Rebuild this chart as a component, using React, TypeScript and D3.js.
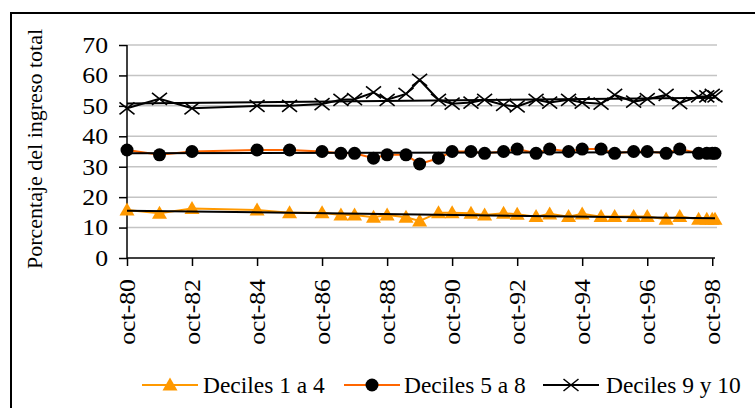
import React, { useEffect, useRef } from "react";
import * as d3 from "d3";

// survey waves (year-month)
const surveyDates = [
  "1980-10", "1981-10", "1982-10", "1984-10", "1985-10", "1986-10",
  "1987-05", "1987-10", "1988-05", "1988-10", "1989-05", "1989-10",
  "1990-05", "1990-10", "1991-05", "1991-10", "1992-05", "1992-10",
  "1993-05", "1993-10", "1994-05", "1994-10", "1995-05", "1995-10",
  "1996-05", "1996-10", "1997-05", "1997-10", "1998-05", "1998-08",
  "1998-10", "1998-11",
];

const deciles1a4 = [
  15.8, 14.7, 16.3, 15.8, 14.9, 14.9, 14.1, 14.1, 13.4, 14.1, 13.4, 12.2,
  14.9, 14.9, 14.7, 14.1, 14.7, 14.4, 13.6, 14.5, 13.6, 14.5, 13.6, 13.6,
  13.6, 13.6, 12.7, 13.6, 12.7, 12.7, 12.7, 12.7,
];

const deciles5a8 = [
  35.5, 33.9, 35.0, 35.5, 35.5, 35.0, 34.4, 34.4, 32.8, 33.9, 33.9, 30.9,
  32.8, 35.0, 35.0, 34.4, 35.0, 35.8, 34.4, 35.8, 35.0, 35.8, 35.8, 34.4,
  35.0, 35.0, 34.4, 35.8, 34.4, 34.4, 34.4, 34.4,
];

const deciles9y10 = [
  49.2, 52.3, 49.2, 50.0, 50.0, 50.6, 52.0, 52.2, 54.4, 52.0, 53.9, 58.5,
  52.0, 50.7, 51.1, 52.0, 50.3, 49.8, 52.0, 51.1, 52.0, 51.1, 50.7, 53.6,
  51.4, 52.2, 53.6, 50.9, 53.1, 53.1, 53.6, 53.1,
];

const yTicks = [0, 10, 20, 30, 40, 50, 60, 70];
const xTickDates = [
  "1980-10", "1982-10", "1984-10", "1986-10", "1988-10",
  "1990-10", "1992-10", "1994-10", "1996-10", "1998-10",
];
const xTickLabels = [
  "oct-80", "oct-82", "oct-84", "oct-86", "oct-88",
  "oct-90", "oct-92", "oct-94", "oct-96", "oct-98",
];

const seriesNames = ["Deciles 1 a 4", "Deciles 5 a 8", "Deciles 9 y 10"];

const FONT = "Liberation Serif";

const App: React.FC = () => {
  const svgRef = useRef<SVGSVGElement>(null);

  useEffect(() => {
    if (!svgRef.current) return;
    const svg = d3.select(svgRef.current);
    svg.selectAll("*").remove();

    const parse = d3.timeParse("%Y-%m");
    const dates = surveyDates.map((d) => parse(d) as Date);

    const x = d3
      .scaleTime()
      .domain([parse("1980-10") as Date, parse("1998-11") as Date])
      .range([127, 715]);
    const y = d3.scaleLinear().domain([0, 70]).range([258, 45]);

    const series = [
      { name: seriesNames[0], values: deciles1a4, color: "#FF9900", marker: "triangle" },
      { name: seriesNames[1], values: deciles5a8, color: "#FF6600", marker: "circle" },
      { name: seriesNames[2], values: deciles9y10, color: "#000000", marker: "cross" },
    ];

    // outer chart frame (cropped on right and bottom)
    svg
      .append("path")
      .attr("d", "M11,420 V13 H760")
      .attr("fill", "none")
      .attr("stroke", "#000")
      .attr("stroke-width", 2);

    // gridlines
    svg
      .append("g")
      .selectAll("line")
      .data(yTicks.filter((t) => t > 0))
      .enter()
      .append("line")
      .attr("x1", 127)
      .attr("x2", 717)
      .attr("y1", (d) => y(d))
      .attr("y2", (d) => y(d))
      .attr("stroke", "#c4c4c4")
      .attr("stroke-width", 1.5);

    // y axis
    const yAxis = svg.append("g").attr("transform", "translate(127,0)");
    yAxis
      .call(d3.axisLeft(y).tickValues(yTicks).tickSize(8).tickFormat(() => ""))
      .select(".domain")
      .attr("d", `M0,${y(70)}V${y(0)}`);
    yAxis.selectAll("line, path").attr("stroke", "#000").attr("stroke-width", 1.5);

    svg
      .append("g")
      .selectAll("text")
      .data(yTicks)
      .enter()
      .append("text")
      .attr("transform", (d) => `translate(108,${y(d) + 7.8}) scale(1.12,1)`)
      .attr("text-anchor", "end")
      .style("font-family", FONT)
      .style("font-size", "23px")
      .attr("fill", "#000")
      .text((d) => d);

    // x axis
    const tickDates = xTickDates.map((d) => parse(d) as Date);
    const xAxis = svg.append("g").attr("transform", `translate(0,${y(0)})`);
    xAxis
      .call(d3.axisBottom(x).tickValues(tickDates).tickSize(8).tickFormat(() => ""))
      .select(".domain")
      .attr("d", `M${x.range()[0]},0H${x.range()[1]}`);
    xAxis.selectAll("line, path").attr("stroke", "#000").attr("stroke-width", 1.5);

    svg
      .append("g")
      .selectAll("text")
      .data(tickDates)
      .enter()
      .append("text")
      .attr("transform", (d) => `translate(${x(d) + 7.8},279) rotate(-90) scale(1.12,1)`)
      .attr("text-anchor", "end")
      .style("font-family", FONT)
      .style("font-size", "23px")
      .attr("fill", "#000")
      .text((_d, i) => xTickLabels[i]);

    // y axis title
    svg
      .append("text")
      .attr("transform", "translate(42,149) rotate(-90)")
      .attr("text-anchor", "middle")
      .style("font-family", FONT)
      .style("font-size", "22px")
      .attr("fill", "#000")
      .text("Porcentaje del ingreso total");

    const drawMarker = (
      g: d3.Selection<SVGGElement, unknown, null, undefined>,
      kind: string,
      cx: number,
      cy: number,
    ) => {
      if (kind === "triangle") {
        g.append("path")
          .attr("d", `M${cx},${cy - 7.5}L${cx + 7.5},${cy + 5.5}L${cx - 7.5},${cy + 5.5}Z`)
          .attr("fill", "#FF9900");
      } else if (kind === "circle") {
        g.append("circle").attr("cx", cx).attr("cy", cy).attr("r", 6.5).attr("fill", "#000");
      } else {
        g.append("path")
          .attr("d", `M${cx - 7.5},${cy - 6}L${cx + 7.5},${cy + 6}M${cx - 7.5},${cy + 6}L${cx + 7.5},${cy - 6}`)
          .attr("stroke", "#000")
          .attr("stroke-width", 1.6)
          .attr("fill", "none");
      }
    };

    const line = d3
      .line<number>()
      .x((_d, i) => x(dates[i]))
      .y((d) => y(d));

    series.forEach((s) => {
      svg
        .append("path")
        .datum(s.values)
        .attr("fill", "none")
        .attr("stroke", s.color)
        .attr("stroke-width", 2)
        .attr("d", line);
      const mg = svg.append("g");
      s.values.forEach((v, i) => drawMarker(mg, s.marker, x(dates[i]), y(v)));
    });

    // linear trend lines
    series.forEach((s) => {
      const xs = dates.map((d) => d.getTime());
      const mx = d3.mean(xs) as number;
      const my = d3.mean(s.values) as number;
      let num = 0;
      let den = 0;
      xs.forEach((xv, i) => {
        num += (xv - mx) * (s.values[i] - my);
        den += (xv - mx) * (xv - mx);
      });
      const slope = num / den;
      const fit = (t: number) => my + slope * (t - mx);
      const t0 = xs[0];
      const t1 = xs[xs.length - 1];
      svg
        .append("line")
        .attr("x1", x(new Date(t0)))
        .attr("x2", x(new Date(t1)))
        .attr("y1", y(fit(t0)))
        .attr("y2", y(fit(t1)))
        .attr("stroke", "#000")
        .attr("stroke-width", 2);
    });

    // legend
    const legendItems = [
      { x0: 142, tx: 203 },
      { x0: 344, tx: 404 },
      { x0: 543, tx: 606 },
    ];
    const ly = 385;
    series.forEach((s, i) => {
      const it = legendItems[i];
      const g = svg.append("g");
      g.append("line")
        .attr("x1", it.x0)
        .attr("x2", it.x0 + 56)
        .attr("y1", ly)
        .attr("y2", ly)
        .attr("stroke", s.color)
        .attr("stroke-width", 2);
      drawMarker(g, s.marker, it.x0 + 28, ly);
      g.append("text")
        .attr("transform", `translate(${it.tx},${ly + 8}) scale(1.02,1)`)
        .style("font-family", FONT)
        .style("font-size", "23px")
        .attr("fill", "#000")
        .text(s.name);
    });
  }, []);

  return (
    <svg
      ref={svgRef}
      width={755}
      height={408}
      style={{ position: "absolute", left: 0, top: 0, background: "#fff" }}
    />
  );
};

export default App;
